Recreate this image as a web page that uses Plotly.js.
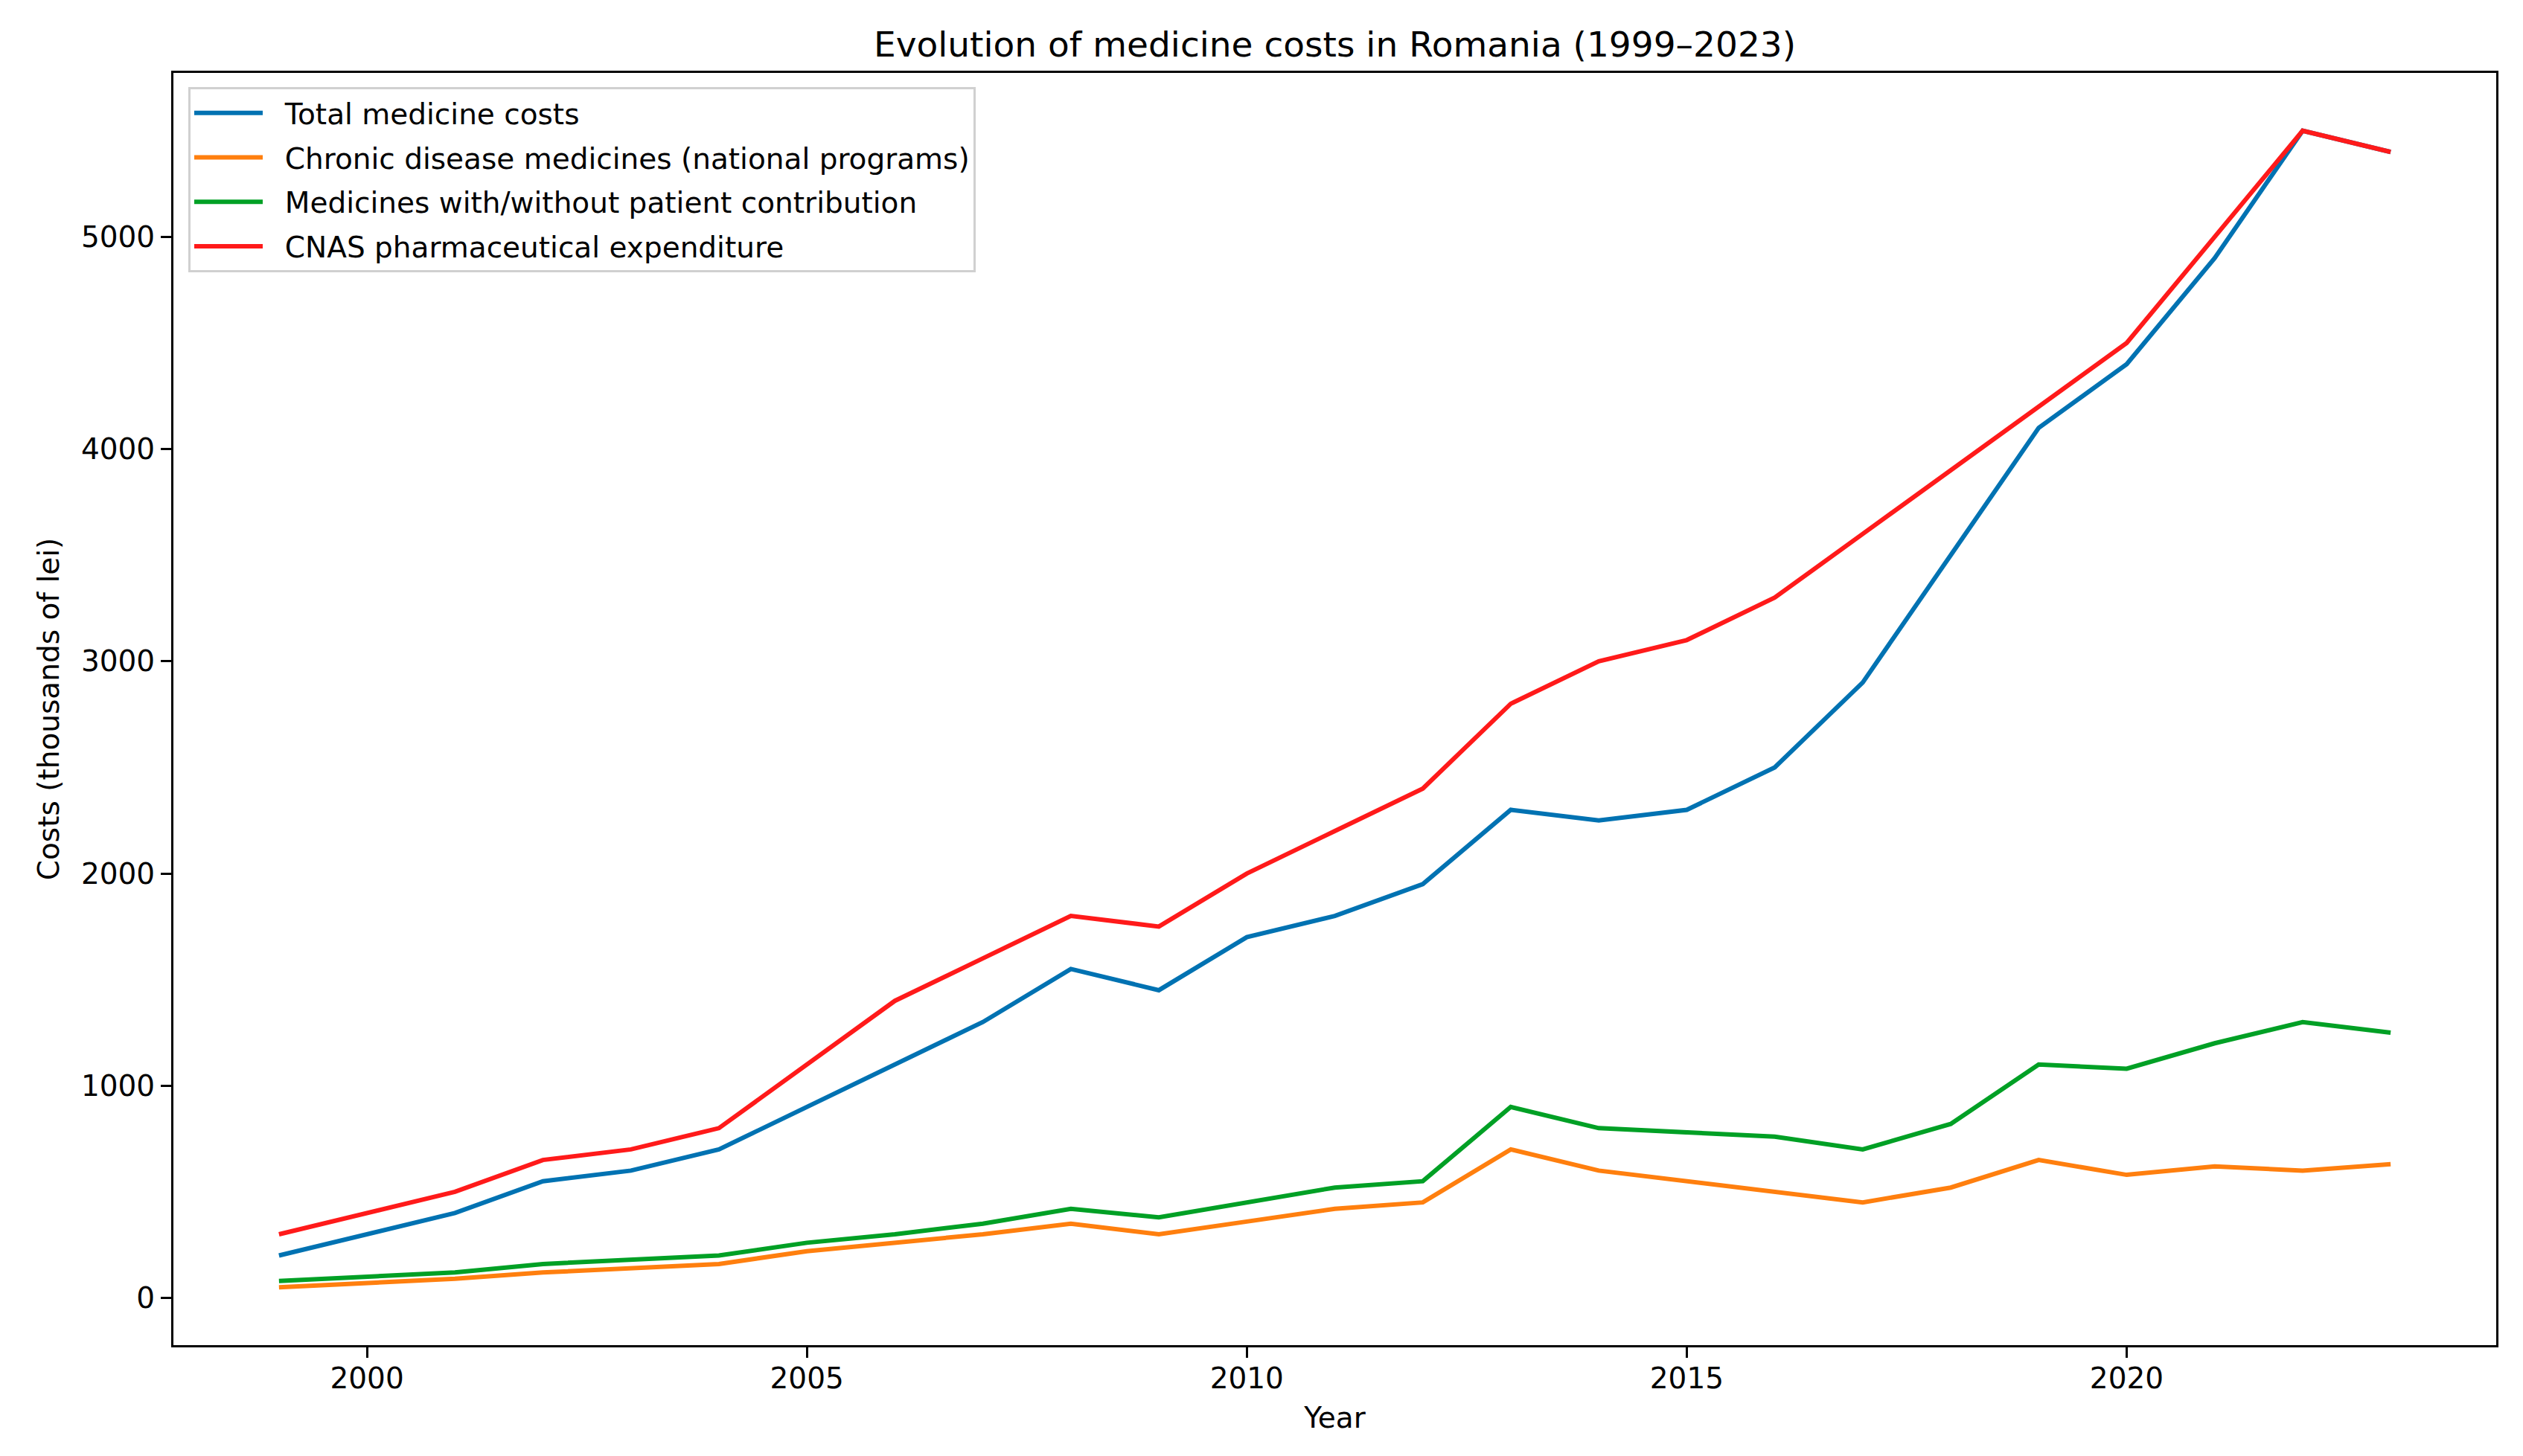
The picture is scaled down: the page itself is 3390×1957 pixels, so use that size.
<!DOCTYPE html>
<html>
<head>
<meta charset="utf-8">
<script src="https://cdn.plot.ly/plotly-3.0.1.min.js"></script>
<style>html,body{margin:0;padding:0;background:#fff;}#chart{width:3390px;height:1957px;}</style>
</head>
<body>
<div id="chart"></div>
<script>
const years = [1999,2000,2001,2002,2003,2004,2005,2006,2007,2008,2009,2010,2011,2012,2013,2014,2015,2016,2017,2018,2019,2020,2021,2022,2023];
const totalCosts = [200,300,400,550,600,700,900,1100,1300,1550,1450,1700,1800,1950,2300,2250,2300,2500,2900,3500,4100,4400,4900,5500,5400];
const chronicCosts = [50,70,90,120,140,160,220,260,300,350,300,360,420,450,700,600,550,500,450,520,650,580,620,600,630];
const contributionCosts = [80,100,120,160,180,200,260,300,350,420,380,450,520,550,900,800,780,760,700,820,1100,1080,1200,1300,1250];
const cnasCosts = [300,400,500,650,700,800,1100,1400,1600,1800,1750,2000,2200,2400,2800,3000,3100,3300,3600,3900,4200,4500,5000,5500,5400];
const seriesNames = ["Total medicine costs","Chronic disease medicines (national programs)","Medicines with/without patient contribution","CNAS pharmaceutical expenditure"];
const seriesColors = ["#0072B2","#FF7F0E","#00A025","#FF1A1A"];
const seriesValues = [totalCosts, chronicCosts, contributionCosts, cnasCosts];

const traces = seriesValues.map((vals, i) => ({
  x: years, y: vals, type: 'scatter', mode: 'lines', name: '\u00a0\u00a0' + seriesNames[i],
  legendgroup: 'g' + i,
  line: {color: seriesColors[i], width: 6}
}));

const font = "DejaVu Sans, sans-serif";
const layout = {
  width: 3390, height: 1957,
  margin: {l: 233, r: 36, t: 98, b: 149, pad: 0},
  paper_bgcolor: '#fff', plot_bgcolor: '#fff',
  font: {family: font, size: 39, color: '#000'},
  title: {text: 'Evolution of medicine costs in Romania (1999–2023)', font: {family: font, size: 47, color: '#000'},
          x: 0.5, xanchor: 'center', y: 1 - 60/1957, yanchor: 'middle', xref: 'paper'},
  xaxis: {
    range: [1997.8, 2024.2], tick0: 2000, dtick: 5, showgrid: false, zeroline: false,
    showline: true, mirror: true, linecolor: '#000', linewidth: 3,
    ticks: 'outside', ticklen: 14, tickwidth: 3, tickcolor: '#000',
    ticklabelstandoff: -6,
    tickfont: {family: font, size: 39, color: '#000'},
    title: {text: 'Year', font: {family: font, size: 39, color: '#000'}, standoff: 18},
    automargin: false
  },
  yaxis: {
    range: [-222.5, 5772.5], tick0: 0, dtick: 1000, showgrid: false, zeroline: false,
    showline: true, mirror: true, linecolor: '#000', linewidth: 3,
    ticks: 'outside', ticklen: 14, tickwidth: 3, tickcolor: '#000',
    tickfont: {family: font, size: 39, color: '#000'},
    title: {text: 'Costs (thousands of lei)', font: {family: font, size: 39, color: '#000'}, standoff: 18},
    automargin: false
  },
  showlegend: true,
  legend: {
    x: 20/3121, y: 1 - 19/1710, xanchor: 'left', yanchor: 'top',
    bgcolor: 'rgba(255,255,255,0.8)', bordercolor: '#d0d0d0', borderwidth: 3,
    font: {family: font, size: 39, color: '#000'},
    tracegroupgap: 6, traceorder: 'grouped', itemwidth: 92
  }
};

Plotly.newPlot('chart', traces, layout, {displayModeBar: false, staticPlot: true});
</script>
</body>
</html>
